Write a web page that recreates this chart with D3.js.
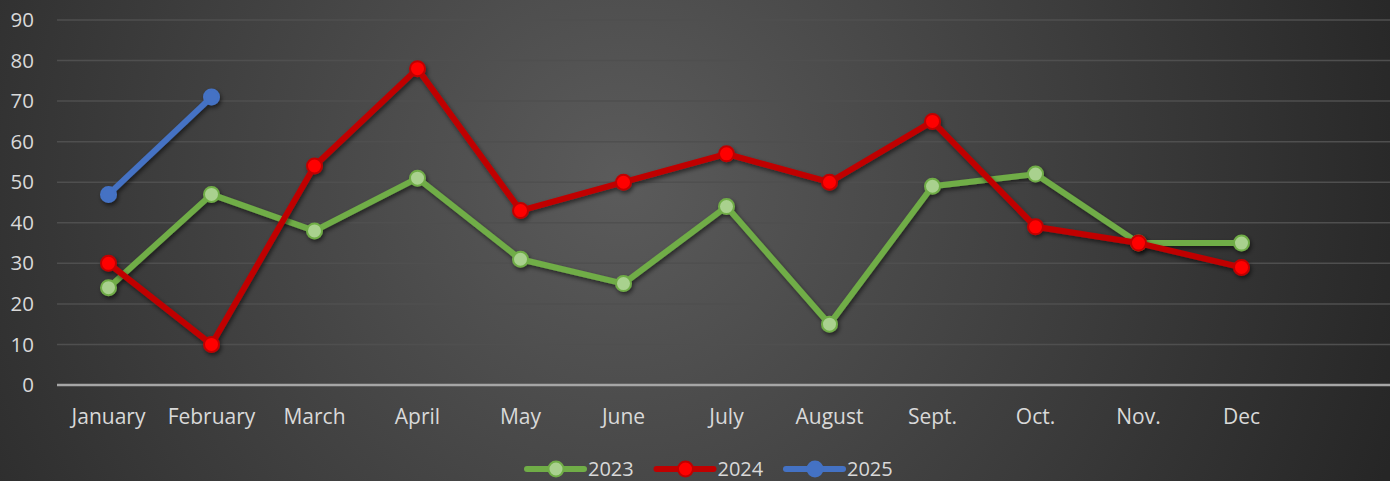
<!DOCTYPE html>
<html>
<head>
<meta charset="utf-8">
<script src="https://cdn.jsdelivr.net/npm/d3@7"></script>
<style>
body{margin:0;background:#2b2b2b;}
svg{display:block;font-family:"Open Sans",sans-serif;}
</style>
</head>
<body>
<script>
// data
const months=["January","February","March","April","May","June","July","August","Sept.","Oct.","Nov.","Dec",""];
const y2023=[24,47,38,51,31,25,44,15,49,52,35,35];
const y2024=[30,10,54,78,43,50,57,50,65,39,35,29];
const y2025=[47,71];
const yTicks=[0,10,20,30,40,50,60,70,80,90];

const series=[
  {name:"2023",values:y2023,line:"#70AD47",fill:"#A9D18E"},
  {name:"2024",values:y2024,line:"#C00000",fill:"#FF0000"},
  {name:"2025",values:y2025,line:"#4472C4",fill:"#4472C4"}
];

const w=1390,h=481;
const svg=d3.select("body").append("svg").attr("width",w).attr("height",h);

const defs=svg.append("defs");
const grad=defs.append("radialGradient").attr("id","bg")
  .attr("gradientUnits","userSpaceOnUse")
  .attr("cx",620).attr("cy",180).attr("r",820);
grad.append("stop").attr("offset","0%").attr("stop-color","#5b5b5b");
grad.append("stop").attr("offset","100%").attr("stop-color","#262626");
const sh=defs.append("filter").attr("id","shadow").attr("x","-10%").attr("y","-10%").attr("width","120%").attr("height","130%");
sh.append("feDropShadow").attr("dx",1.5).attr("dy",2.5).attr("stdDeviation",2)
  .attr("flood-color","#000").attr("flood-opacity",0.55);

svg.append("rect").attr("width",w).attr("height",h).attr("fill","url(#bg)");

const x=d3.scaleBand().domain(months).range([57,1396]);
const cx=d=>x(d)+x.bandwidth()/2;
const y=d3.scaleLinear().domain([0,90]).range([385,20]);

// gridlines
svg.append("g").selectAll("line").data(yTicks.filter(t=>t>0)).join("line")
  .attr("x1",57).attr("x2",w).attr("y1",d=>y(d)).attr("y2",d=>y(d))
  .attr("stroke","#4f4f4f").attr("stroke-width",1.5);

// y axis labels
const ya=svg.append("g").attr("transform","translate(34,0)")
  .call(d3.axisLeft(y).tickValues(yTicks).tickSize(0).tickPadding(0));
ya.select(".domain").remove();
ya.selectAll("text").attr("fill","#d9d9d9").style("font-size","20.5px").style("font-family","'Open Sans',sans-serif");

// x axis
const xa=svg.append("g").attr("transform","translate(0,385)")
  .call(d3.axisBottom(x).tickSize(0).tickPadding(24));
xa.select(".domain").remove();
xa.selectAll("text").attr("fill","#d9d9d9").style("font-size","21px").style("font-family","'Open Sans',sans-serif");
svg.append("line").attr("x1",57).attr("x2",w).attr("y1",385).attr("y2",385)
  .attr("stroke","#a6a6a6").attr("stroke-width",2.5);

const line=d3.line().x((d,i)=>cx(months[i])).y(d=>y(d));

const sg=svg.selectAll("g.series").data(series).join("g").attr("class","series")
  .attr("filter","url(#shadow)");
sg.append("path").attr("d",d=>line(d.values)).attr("fill","none")
  .attr("stroke",d=>d.line).attr("stroke-width",6).attr("stroke-linejoin","round");
sg.each(function(s){
  d3.select(this).selectAll("circle").data(s.values).join("circle")
    .attr("cx",(d,i)=>cx(months[i])).attr("cy",d=>y(d)).attr("r",7.5)
    .attr("fill",s.fill).attr("stroke",s.line).attr("stroke-width",2);
});

// legend
const lg=svg.append("g").selectAll("g").data(series).join("g")
  .attr("transform",(d,i)=>`translate(${527+i*129.5},469)`);
lg.append("line").attr("x1",0).attr("x2",57).attr("stroke",d=>d.line).attr("stroke-width",6).attr("stroke-linecap","round");
lg.append("circle").attr("cx",29).attr("r",7.5).attr("fill",d=>d.fill).attr("stroke",d=>d.line).attr("stroke-width",2);
lg.append("text").attr("x",61).attr("dy","0.35em").text(d=>d.name)
  .attr("fill","#d9d9d9").style("font-size","20px");
</script>
</body>
</html>
